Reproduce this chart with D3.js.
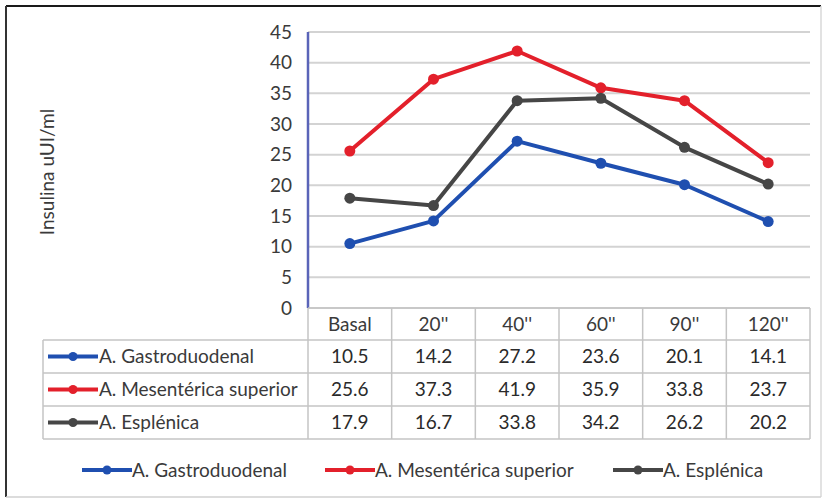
<!DOCTYPE html>
<html>
<head>
<meta charset="utf-8">
<script src="https://cdn.jsdelivr.net/npm/d3@7"></script>
<style>
  html, body { margin: 0; padding: 0; background: #fff; }
  svg { display: block; }
  text { font-family: Lato, "Open Sans", sans-serif; }
</style>
</head>
<body>
<svg id="chart" width="824" height="502"></svg>
<script>
// Insulin levels (uUI/ml) by sampling site over time
const categories = ["Basal", "20''", "40''", "60''", "90''", "120''"];
const gastroduodenal = [10.5, 14.2, 27.2, 23.6, 20.1, 14.1];
const mesenterica = [25.6, 37.3, 41.9, 35.9, 33.8, 23.7];
const esplenica = [17.9, 16.7, 33.8, 34.2, 26.2, 20.2];
const seriesNames = ["A. Gastroduodenal", "A. Mesentérica superior", "A. Esplénica"];
const yTicks = [0, 5, 10, 15, 20, 25, 30, 35, 40, 45];
const yTitle = "Insulina uUI/ml";

const series = [
  { name: seriesNames[0], values: gastroduodenal, color: "#1f4fb0" },
  { name: seriesNames[1], values: mesenterica, color: "#e3202b" },
  { name: seriesNames[2], values: esplenica, color: "#464646" }
];

const svg = d3.select("#chart");
const W = 824, H = 502;
const plot = { left: 308, right: 810, top: 32, bottom: 308 };
const tableLeft = 43;
const rowH = 33;
const fontSize = 19;
const textColor = "#3a3a3a";

// outer frame
svg.append("rect").attr("x", 0).attr("y", 0).attr("width", W).attr("height", H).attr("fill", "#fff");
svg.append("line").attr("x1", 6).attr("x2", 821).attr("y1", 6).attr("y2", 6).attr("stroke", "#1a1a1a").attr("stroke-width", 2);
svg.append("line").attr("x1", 6).attr("x2", 6).attr("y1", 6).attr("y2", 497).attr("stroke", "#333").attr("stroke-width", 2);
svg.append("line").attr("x1", 821).attr("x2", 821).attr("y1", 6).attr("y2", 497).attr("stroke", "#d8d8d8").attr("stroke-width", 1.5);
svg.append("line").attr("x1", 6).attr("x2", 821).attr("y1", 497).attr("y2", 497).attr("stroke", "#d0d0d0").attr("stroke-width", 1.5);

const x = d3.scaleBand().domain(categories).range([plot.left, plot.right]);
const y = d3.scaleLinear().domain([0, 45]).range([plot.bottom, plot.top]);

// gridlines
svg.append("g")
  .selectAll("line")
  .data(yTicks)
  .join("line")
  .attr("x1", plot.left).attr("x2", plot.right)
  .attr("y1", d => y(d)).attr("y2", d => y(d))
  .attr("stroke", "#d3d3d3").attr("stroke-width", 2);

// y axis with tick labels
const yAxis = d3.axisLeft(y).tickValues(yTicks).tickSize(0).tickPadding(16);
const yG = svg.append("g").attr("transform", `translate(${plot.left},0)`).call(yAxis);
yG.select(".domain").remove();
yG.selectAll("text")
  .attr("font-family", "Lato, sans-serif")
  .attr("font-size", fontSize)
  .attr("fill", textColor);
svg.append("line")
  .attr("x1", plot.left).attr("x2", plot.left)
  .attr("y1", plot.top).attr("y2", plot.bottom)
  .attr("stroke", "#5a64b8").attr("stroke-width", 2.5);

// y axis title
svg.append("text")
  .attr("transform", `translate(54,${(plot.top + plot.bottom) / 2 + 2}) rotate(-90)`)
  .attr("text-anchor", "middle")
  .attr("font-size", fontSize)
  .attr("fill", textColor)
  .text(yTitle);

// data table grid
const grid = svg.append("g").attr("stroke", "#c4c4c4").attr("stroke-width", 1.5).attr("fill", "none");
const headerTop = plot.bottom;
const headerBottom = headerTop + 32;
const tableBottom = headerBottom + rowH * series.length;
// horizontal lines
grid.append("line").attr("x1", plot.left).attr("x2", plot.right).attr("y1", headerTop).attr("y2", headerTop);
for (let i = 0; i <= series.length; i++) {
  const yy = headerBottom + i * rowH;
  grid.append("line").attr("x1", tableLeft).attr("x2", plot.right).attr("y1", yy).attr("y2", yy);
}
// vertical lines
grid.append("line").attr("x1", tableLeft).attr("x2", tableLeft).attr("y1", headerBottom).attr("y2", tableBottom);
categories.forEach((c, i) => {
  const xx = x(c);
  grid.append("line").attr("x1", xx).attr("x2", xx).attr("y1", headerTop).attr("y2", tableBottom);
});
grid.append("line").attr("x1", plot.right).attr("x2", plot.right).attr("y1", headerTop).attr("y2", tableBottom);

// header labels
svg.append("g")
  .selectAll("text")
  .data(categories)
  .join("text")
  .attr("x", d => x(d) + x.bandwidth() / 2)
  .attr("y", (headerTop + headerBottom) / 2)
  .attr("dy", "0.36em")
  .attr("text-anchor", "middle")
  .attr("font-size", fontSize)
  .attr("fill", textColor)
  .text(d => d);

// legend key helper
function key(g, cx, color) {
  g.append("line").attr("x1", cx - 25).attr("x2", cx + 25).attr("y1", 0).attr("y2", 0)
    .attr("stroke", color).attr("stroke-width", 4);
  g.append("circle").attr("cx", cx).attr("cy", 0).attr("r", 4.5).attr("fill", color);
}

// table rows
series.forEach((s, i) => {
  const cy = headerBottom + i * rowH + rowH / 2;
  const row = svg.append("g").attr("transform", `translate(0,${cy})`);
  key(row, 73, s.color);
  row.append("text").attr("x", 99).attr("dy", "0.36em")
    .attr("font-size", fontSize).attr("fill", textColor).text(s.name);
  row.selectAll("text.val")
    .data(s.values)
    .join("text")
    .attr("class", "val")
    .attr("x", (d, j) => x(categories[j]) + x.bandwidth() / 2)
    .attr("dy", "0.36em")
    .attr("text-anchor", "middle")
    .attr("font-size", fontSize)
    .attr("fill", "#2a2a2a")
    .text(d => d3.format(".1f")(d));
});

// lines and markers
const line = d3.line()
  .x((d, i) => x(categories[i]) + x.bandwidth() / 2)
  .y(d => y(d));
series.forEach(s => {
  svg.append("path")
    .datum(s.values)
    .attr("d", line)
    .attr("fill", "none")
    .attr("stroke", s.color)
    .attr("stroke-width", 4)
    .attr("stroke-linejoin", "round");
  svg.append("g")
    .selectAll("circle")
    .data(s.values)
    .join("circle")
    .attr("cx", (d, i) => x(categories[i]) + x.bandwidth() / 2)
    .attr("cy", d => y(d))
    .attr("r", 5.5)
    .attr("fill", s.color);
});

// bottom legend
const legendY = 470;
const legendItems = [
  { s: series[0], keyX: 107, textX: 132 },
  { s: series[1], keyX: 350, textX: 375 },
  { s: series[2], keyX: 638, textX: 663 }
];
legendItems.forEach(it => {
  const g = svg.append("g").attr("transform", `translate(0,${legendY})`);
  key(g, it.keyX, it.s.color);
  g.append("text").attr("x", it.textX).attr("dy", "0.36em")
    .attr("font-size", fontSize).attr("fill", textColor).text(it.s.name);
});
</script>
</body>
</html>
